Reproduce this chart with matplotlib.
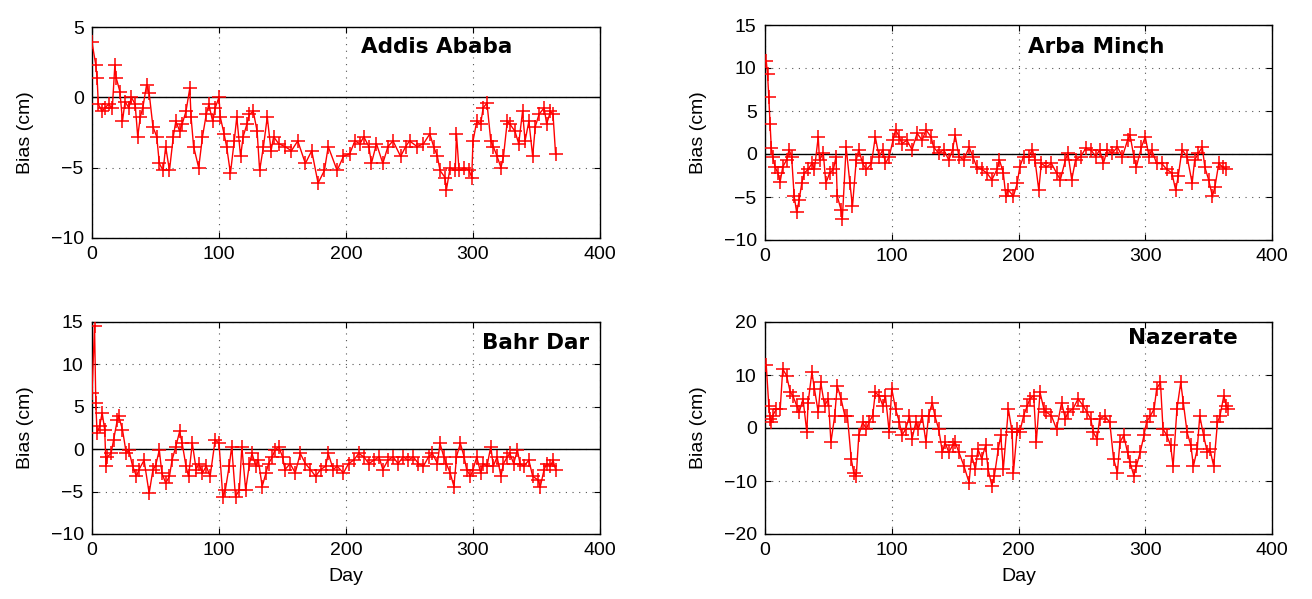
import matplotlib
matplotlib.use("Agg")
import matplotlib.pyplot as plt

# ---------------- data ----------------
addis_days = [0, 3, 4, 5, 8, 10, 13, 16, 18, 19, 22, 24, 26, 29, 31, 34, 36, 38, 40, 43, 45, 48,
              51, 53, 56, 58, 61, 64, 66, 69, 71, 74, 77, 78, 80, 84, 87, 90, 92, 95, 97, 100,
              101, 104, 106, 109, 112, 114, 117, 119, 122, 124, 127, 130, 132, 135, 138, 141,
              143, 147, 152, 157, 162, 168, 173, 178, 183, 186,
              193, 198, 203, 207, 211, 214, 218, 220, 224, 229, 233, 237, 243, 247, 250, 256,
              261, 266, 269, 272, 274, 278, 279, 282, 286, 287, 289, 293, 297, 299, 300, 303,
              306, 308, 311, 314, 316, 319, 322, 324, 327, 329, 333, 336, 339, 341, 344, 347,
              349, 352, 356, 358, 361, 363, 365]
addis_vals = [3.9, 2.3, 1.4, -0.5, -1.0, -0.75, -0.5, -0.75, 2.3, 1.4, 0.4, -1.7, -0.3, -0.75,
              0.0, -0.5, -2.8, -1.4, -0.75, 0.9, 0.3, -2.1, -2.8, -4.7, -5.2, -3.5, -5.2, -2.8,
              -1.7, -2.4, -1.9, -1.0, 0.65, -1.4, -3.5, -5.0, -2.8, -1.2, -0.5, -1.7, -0.75, 0.0,
              -1.4, -2.6, -3.5, -5.4, -3.1, -1.4, -4.2, -2.8, -1.9, -1.2, -1.0, -2.4, -5.2, -3.5,
              -1.4, -3.8, -2.8, -3.3, -3.5, -3.8, -3.1, -4.7, -3.8, -6.1, -5.2, -3.5,
              -5.2, -4.2, -4.0, -3.1, -3.3, -2.8, -3.5, -4.7, -3.3, -4.7, -3.5, -3.1, -4.2, -3.5,
              -3.1, -3.5, -3.3, -2.6, -3.5, -4.2, -5.2, -5.7, -6.6, -5.0, -5.2, -2.6, -5.2, -5.0,
              -5.2, -5.7, -3.1, -1.7, -1.9, -0.75, -0.4, -3.1, -3.5, -4.2, -5.0, -4.2, -1.7, -1.9,
              -2.4, -3.3, -1.0, -3.1, -1.7, -4.2, -2.1, -1.2, -0.75, -1.9, -1.0, -1.2, -4.0]

arba_days = [1, 2, 3, 4, 5, 6, 8, 10, 12, 14, 17, 19, 21, 23, 25, 27, 29, 31, 34, 37, 39, 42,
             43, 46, 48, 51, 54, 56, 57, 60, 61, 64, 67, 69, 72, 74, 77, 80, 84, 87, 90, 93, 95,
             98, 101, 103, 106, 108, 112, 116, 120, 124, 127, 131, 133, 137, 141, 145, 148, 150,
             153, 157, 161, 164, 167, 171, 175, 179, 183, 185, 188, 190, 192, 196, 199, 201, 204,
             208, 211, 213, 216, 218, 222, 226, 230, 233, 237, 239, 242, 245, 249, 253, 257, 261,
             264, 267, 270, 274, 278, 282, 286, 288, 291, 293, 297, 300, 303, 305, 309, 313, 317,
             321, 324, 326, 329, 333, 337, 339, 342, 345, 347, 350, 353, 355, 358, 361, 364]
arba_vals = [10.8, 9.3, 6.6, 3.5, 0.65, -0.3, -1.5, -2.2, -3.2, -1.5, -0.7, 0.5, -0.3, -4.9,
             -6.8, -5.3, -3.4, -2.2, -1.8, -1.1, -1.8, 2.0, -0.7, 0.1, -3.4, -2.2, -1.8, -0.3,
             -4.9, -6.5, -7.6, 0.8, -3.4, -6.1, -0.7, 0.5, -1.1, -1.8, -1.1, 2.0, -0.3, 0.5, -1.1,
             -0.3, 1.6, 2.8, 2.0, 1.2, 1.6, 0.5, 2.4, 1.6, 2.8, 2.0, 0.8, 0.1, 0.5, -0.7, 0.5, 2.2,
             -0.3, -0.7, 0.8, -0.3, -1.5, -1.8, -2.2, -3.0, -1.8, -0.7, -2.2, -4.9, -4.2, -4.9,
             -3.4, -1.5, -0.3, -0.3, 0.5, -0.7, -4.2, -1.1, -1.5, -1.1, -2.2, -3.0, -0.7, 0.1,
             -3.0, -0.7, -0.3, 0.65, 0.5, -0.3, 0.5, -1.1, 0.5, 0.1, 0.8, -0.3, 1.6, 2.2, -0.3,
             -1.5, 0.8, 2.0, -0.3, 0.5, -1.1, -1.1, -1.8, -2.2, -4.2, -2.6, 0.5, -0.3, -3.4, -0.7,
             0.1, 0.8, -1.5, -3.0, -4.9, -3.8, -1.1, -1.5, -1.8]

bahr_days = [0, 2, 3, 4, 6, 8, 10, 11, 12, 15, 17, 20, 21, 24, 27, 29, 32, 35, 37, 41, 45, 48,
             50, 53, 55, 58, 61, 63, 66, 69, 71, 74, 76, 79, 82, 84, 87, 90, 93, 97, 100, 103,
             105, 108, 110, 113, 116, 118, 121, 124, 126, 129, 131, 134, 137, 139, 142, 144, 147,
             150, 152, 156, 160, 164, 168, 172, 176, 180, 184, 186, 190, 193, 198, 202, 206, 210,
             214, 218, 222, 226, 229, 233, 237, 241, 245, 249, 253, 257, 261, 265, 268, 272, 274,
             277, 279, 282, 285, 287, 290, 293, 295, 298, 300, 303, 306, 308, 311, 314, 316, 319,
             322, 324, 327, 329, 332, 335, 337, 340, 344, 347, 351, 353, 356, 358, 361, 363, 365]
bahr_vals = [6.6, 14.5, 5.4, 1.9, 2.7, 4.3, 2.3, -2.0, -0.9, -0.5, 1.1, 3.5, 3.9, 2.3, -0.5,
             -0.1, -2.0, -3.2, -2.4, -1.3, -5.2, -2.4, -2.0, -0.1, -2.8, -4.0, -3.2, -1.3, 0.3,
             2.1, 0.7, -2.0, -3.2, 0.7, -2.4, -1.7, -2.8, -2.0, -3.2, 1.1, 0.7, -5.6, -4.8, -2.0,
             0.3, -5.6, -4.8, 0.3, -4.8, -1.7, -0.5, -2.0, -1.3, -4.4, -2.8, -1.7, -0.9, -0.1, 0.3,
             -0.9, -2.4, -1.7, -2.8, -0.5, -1.7, -2.4, -3.2, -2.4, -2.0, -0.5, -2.4, -2.0, -2.8,
             -1.7, -1.3, -0.5, -0.9, -1.7, -1.3, -0.9, -2.4, -1.3, -0.9, -1.7, -0.9, -1.3, -0.9,
             -1.7, -2.0, -0.9, -0.5, -1.7, 0.7, -0.9, -1.7, -2.8, -4.4, -0.9, 0.7, -0.9, -2.4,
             -3.2, -2.4, -0.9, -2.8, -1.7, -2.0, 0.3, -2.0, -0.9, -3.2, -1.7, -0.9, -0.5, -1.7,
             -0.1, -1.7, -2.0, -1.3, -3.2, -3.6, -4.4, -2.4, -1.7, -2.0, -1.3, -2.4]

naz_days = [1, 3, 4, 5, 6, 9, 12, 14, 17, 20, 22, 25, 27, 30, 33, 34, 37, 39, 42, 44, 47, 50,
            52, 55, 57, 60, 63, 65, 68, 70, 72, 74, 77, 80, 82, 85, 87, 90, 93, 95, 98, 100, 103,
            106, 108, 111, 114, 116, 119, 121, 124, 127, 129, 132, 134, 137, 140, 142, 145, 148,
            150, 153, 157, 161, 163, 166, 168, 171, 174, 176, 179, 181, 184, 186, 188, 192, 195,
            196, 199, 201, 204, 207, 209, 212, 214, 217, 220, 222, 226, 230, 234, 237, 239, 243,
            247, 251, 254, 257, 259, 262, 264, 268, 272, 275, 278, 280, 283, 286, 288, 291, 293,
            296, 299, 301, 304, 307, 309, 312, 314, 317, 320, 322, 325, 328, 330, 333, 336, 338,
            341, 343, 346, 349, 351, 354, 357, 359, 362, 364, 365]
naz_vals = [11.8, 4.2, 1.7, 1.1, 2.3, 3.6, 3.6, 11.1, 9.9, 6.7, 6.1, 4.2, 3.0, 5.5, -0.8, 4.8,
            10.5, 7.4, 3.0, 8.6, 4.2, 5.5, -2.7, 2.3, 8.0, 5.5, 2.3, 2.3, -5.8, -8.4, -9.0, -1.4,
            1.1, -0.2, 1.1, 2.3, 6.7, 6.1, 4.2, 6.1, -0.8, 7.4, 3.6, 1.1, -1.4, -0.2, 2.3, -2.1,
            1.1, -0.2, 2.3, -2.7, 2.3, 4.8, 2.3, -0.2, -4.6, -2.7, -4.6, -3.3, -2.7, -4.6, -7.2,
            -10.3, -5.2, -7.8, -4.0, -5.8, -3.3, -7.8, -10.9, -9.0, -4.0, -1.4, -7.8, 3.6, -0.8,
            -8.4, -0.2, -0.8, 2.3, 4.2, 5.5, 6.1, -2.7, 6.7, 3.6, 3.0, 2.3, -0.2, 4.8, 1.7, 3.0,
            3.6, 5.5, 4.2, 3.0, 1.7, -0.8, -2.1, 1.7, 2.3, 1.1, -5.8, -8.4, -2.7, -1.4, -4.6,
            -6.5, -9.0, -7.2, -4.6, -1.4, 1.1, 2.3, 3.6, 7.4, 8.6, -0.2, -1.4, -3.3, -7.2, 3.6,
            8.6, 4.8, -0.8, -3.3, -7.2, -4.0, 2.3, -1.4, -4.6, -4.0, -7.2, 1.1, 2.3, 6.1, 4.2, 3.6]

stations = ["Addis Ababa", "Arba Minch", "Bahr Dar", "Nazerate"]
xticks = [0, 100, 200, 300, 400]
yticks_list = [[-10, -5, 0, 5], [-10, -5, 0, 5, 10, 15], [-10, -5, 0, 5, 10, 15], [-20, -10, 0, 10, 20]]
ylims = [(-10, 5), (-10, 15), (-10, 15), (-20, 20)]
series = [(addis_days, addis_vals), (arba_days, arba_vals), (bahr_days, bahr_vals), (naz_days, naz_vals)]

# ---------------- figure ----------------
plt.rcParams['font.family'] = ['Liberation Sans', 'DejaVu Sans']
fig = plt.figure(figsize=(13.12, 5.99), dpi=100)

W, H = 1312, 599
boxes = [(92, 27, 600, 238), (765, 25, 1272, 240), (92, 322, 600, 534), (765, 322, 1272, 534)]
label_pos = [(0.53, 0.905), (0.519, 0.898), (0.768, 0.90), (0.716, 0.925)]

for i, (x0, y0, x1, y1) in enumerate(boxes):
    ax = fig.add_axes([x0 / W, 1 - y1 / H, (x1 - x0) / W, (y1 - y0) / H])
    d, v = series[i]
    ax.plot(d, v, color='red', marker='+', markersize=9.5, markeredgewidth=1.1, linewidth=1.0, zorder=3)
    ax.axhline(0, color='black', linewidth=1.0, zorder=2)
    ax.set_xlim(0, 400)
    ax.set_ylim(*ylims[i])
    ax.set_xticks(xticks)
    ax.set_yticks(yticks_list[i])
    ax.grid(True, linestyle=(0, (1, 5)), color='#555555', linewidth=0.8)
    ax.tick_params(direction='in', length=4, labelsize=14, top=True, right=True, pad=6)
    for s in ax.spines.values():
        s.set_linewidth(1.0)
    ax.set_ylabel("Bias (cm)", fontsize=14, labelpad=12)
    if i >= 2:
        ax.set_xlabel("Day", fontsize=14, labelpad=6)
    ax.text(label_pos[i][0], label_pos[i][1], stations[i], transform=ax.transAxes,
            fontsize=15.5, fontweight='bold', family='DejaVu Sans', ha='left', va='center')

fig.savefig("out.png", dpi=100)
